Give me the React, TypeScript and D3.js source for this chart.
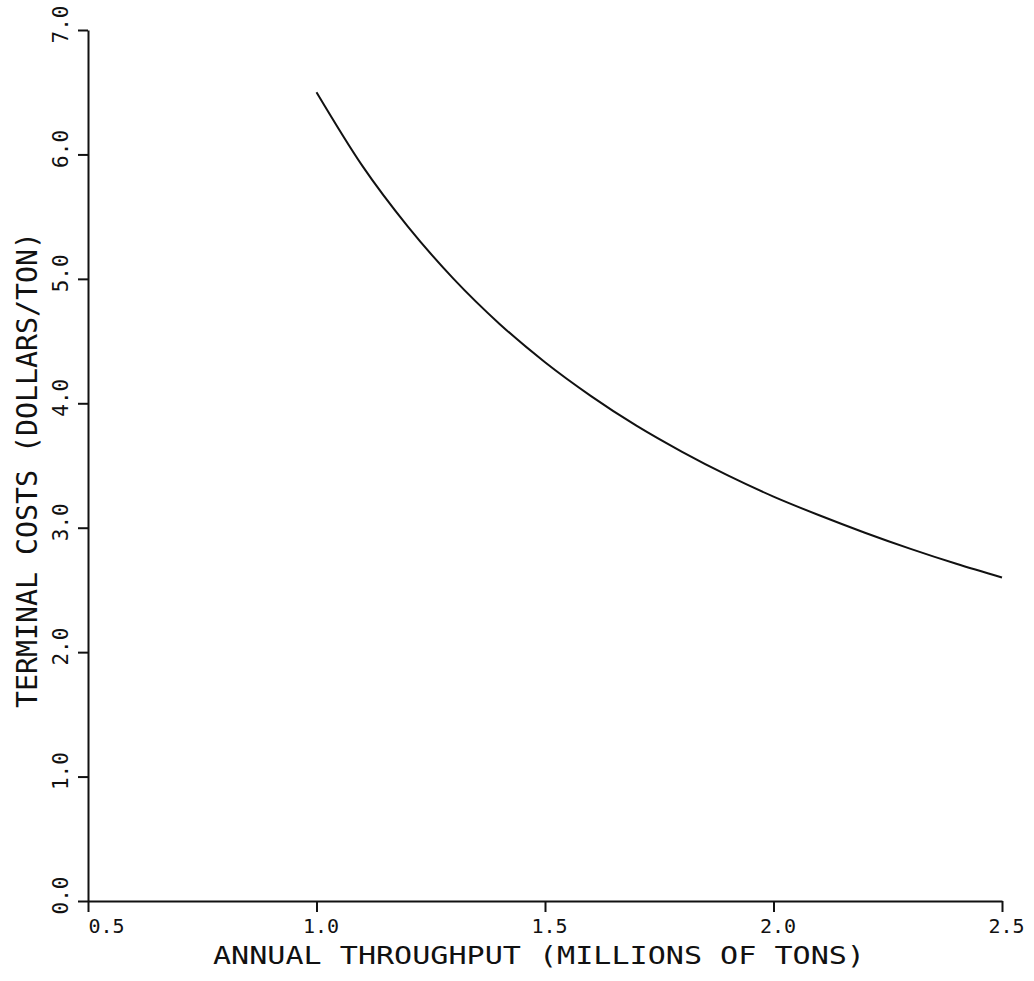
import React, { useEffect, useRef } from 'react';
import * as d3 from 'd3';

// values
const throughput = [1.0, 1.1, 1.2, 1.3, 1.4, 1.5, 1.6, 1.7, 1.8, 1.9, 2.0, 2.1, 2.2, 2.3, 2.4, 2.5];
const terminalCost = [6.5, 5.91, 5.42, 5.0, 4.64, 4.33, 4.06, 3.82, 3.61, 3.42, 3.25, 3.1, 2.96, 2.83, 2.71, 2.6];

const xTicks = [0.5, 1.0, 1.5, 2.0, 2.5];
const yTicks = [0, 1, 2, 3, 4, 5, 6, 7];

const xTitle = 'ANNUAL THROUGHPUT (MILLIONS OF TONS)';
const yTitle = 'TERMINAL COSTS (DOLLARS/TON)';

const font = '"DejaVu Sans Mono", monospace';
const ink = '#111';

const App = () => {
  const ref = useRef<SVGSVGElement>(null);
  const width = 1034;
  const height = 981;

  useEffect(() => {
    const svg = d3.select(ref.current);
    svg.selectAll('*').remove();

    const x = d3.scaleLinear().domain([0.5, 2.5]).range([88, 1002]);
    const y = d3.scaleLinear().domain([0, 7]).range([901, 30]);

    // y axis
    const gy = svg.append('g')
      .attr('transform', `translate(${x(0.5)},0)`)
      .call(d3.axisLeft(y).tickValues(yTicks).tickFormat(d3.format('.1f')).tickSize(10).tickSizeOuter(0));
    gy.select('.domain').attr('stroke', ink).attr('stroke-width', 2);
    gy.selectAll('.tick line').attr('stroke', ink).attr('stroke-width', 2);
    gy.selectAll('.tick text')
      .attr('x', null).attr('dy', null)
      .attr('transform', 'translate(-20,-6) rotate(-90)')
      .attr('text-anchor', 'middle')
      .style('font-family', font).style('font-size', '21px').attr('fill', ink);

    // x axis
    const gx = svg.append('g')
      .attr('transform', `translate(0,${y(0)})`)
      .call(d3.axisBottom(x).tickValues(xTicks).tickFormat(d3.format('.1f')).tickSize(11).tickSizeOuter(0));
    gx.select('.domain').attr('stroke', ink).attr('stroke-width', 2);
    gx.selectAll('.tick line').attr('stroke', ink).attr('stroke-width', 2);
    gx.selectAll('.tick text')
      .attr('y', 32).attr('dy', null).attr('dx', 4)
      .attr('text-anchor', 'middle')
      .style('font-family', font).style('font-size', '20px').attr('fill', ink);
    gx.select('.tick text').attr('text-anchor', 'start').attr('dx', 0);

    // curve
    const line = d3.line<number>()
      .x((d, i) => x(throughput[i]))
      .y(d => y(d))
      .curve(d3.curveMonotoneX);
    svg.append('path')
      .datum(terminalCost)
      .attr('d', line)
      .attr('fill', 'none')
      .attr('stroke', ink)
      .attr('stroke-width', 2);

    // titles
    svg.append('text')
      .attr('x', 213).attr('y', 964)
      .attr('textLength', 652).attr('lengthAdjust', 'spacingAndGlyphs')
      .style('font-family', font).style('font-size', '25px').attr('fill', ink)
      .text(xTitle);

    svg.append('text')
      .attr('transform', 'translate(37,708) rotate(-90)')
      .attr('textLength', 476).attr('lengthAdjust', 'spacingAndGlyphs')
      .style('font-family', font).style('font-size', '29px').attr('fill', ink)
      .text(yTitle);
  }, []);

  return (
    <svg ref={ref} width={width} height={height}
      style={{ position: 'absolute', left: 0, top: 0, background: '#fff' }} />
  );
};

export default App;
